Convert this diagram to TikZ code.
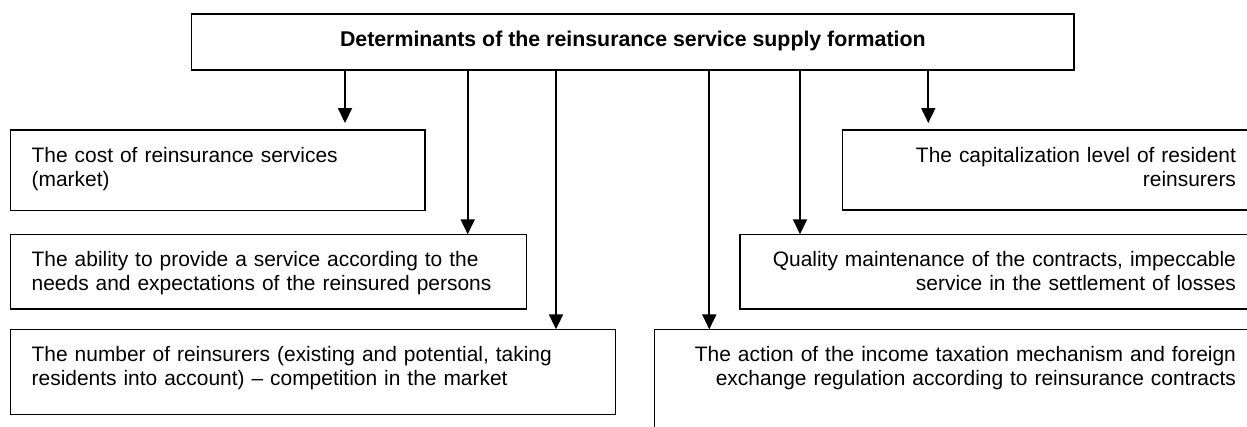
\documentclass[tikz,border=0pt]{standalone}
\usepackage{fontspec}
\setmainfont{Liberation Sans}
\usetikzlibrary{arrows.meta}
\begin{document}
\begin{tikzpicture}[x=0.75pt,y=-0.75pt,
  font=\fontsize{15.7}{18.1}\selectfont,
  box/.style={draw, line width=1.1pt, inner xsep=15.75pt, inner ysep=0pt, outer sep=0pt, text height=24pt, anchor=north west},
  lbox/.style={box, align=left},
  rbox/.style={box, align=right},
  arr/.style={line width=1.5pt, -{Triangle[length=11.25pt,width=10.5pt]}},
  gap/.style={shorten >=5.25pt}]
\useasboundingbox (0,0) rectangle (1247,426);
\clip (0,0) rectangle (1247,426);
\node[box, minimum width=661.7pt, text depth=18pt, align=center, font=\fontsize{16}{18.4}\selectfont\bfseries] (top) at (191.7,14) {Determinants of the reinsurance service supply formation};
\node[lbox, text width=279.2pt, text depth=36.5pt] (b1) at (10.7,130) {The cost of reinsurance services\\(market)};
\node[lbox, text width=355.5pt, text depth=32pt] (b2) at (10.7,234.3) {The ability to provide a service according to the\\needs and expectations of the reinsured persons};
\node[lbox, text width=422pt, text depth=40pt] (b3) at (10.7,329.3) {The number of reinsurers (existing and potential, taking\\residents into account) – competition in the market};
\node[rbox, text width=279.5pt, text depth=36pt] (b6) at (842.3,130) {The capitalization level of resident\\reinsurers};
\node[rbox, text width=356.2pt, text depth=32pt] (b5) at (740,234.3) {Quality maintenance of the contracts, impeccable\\service in the settlement of losses};
\node[rbox, text width=420.5pt, text depth=110pt] (b4) at (654.3,329.3) {The action of the income taxation mechanism and foreign\\exchange regulation according to reinsurance contracts};
\coordinate (c1) at (345,0);
\coordinate (c2) at (467.7,0);
\coordinate (c3) at (556,0);
\coordinate (c4) at (709.3,0);
\coordinate (c5) at (800,0);
\coordinate (c6) at (928.3,0);
\draw[arr, gap] (top.south -| c1) -- (b1.north -| c1);
\draw[arr] (top.south -| c2) -- (b2.north -| c2);
\draw[arr] (top.south -| c3) -- (b3.north -| c3);
\draw[arr] (top.south -| c4) -- (b4.north -| c4);
\draw[arr] (top.south -| c5) -- (b5.north -| c5);
\draw[arr, gap] (top.south -| c6) -- (b6.north -| c6);
\end{tikzpicture}
\end{document}
